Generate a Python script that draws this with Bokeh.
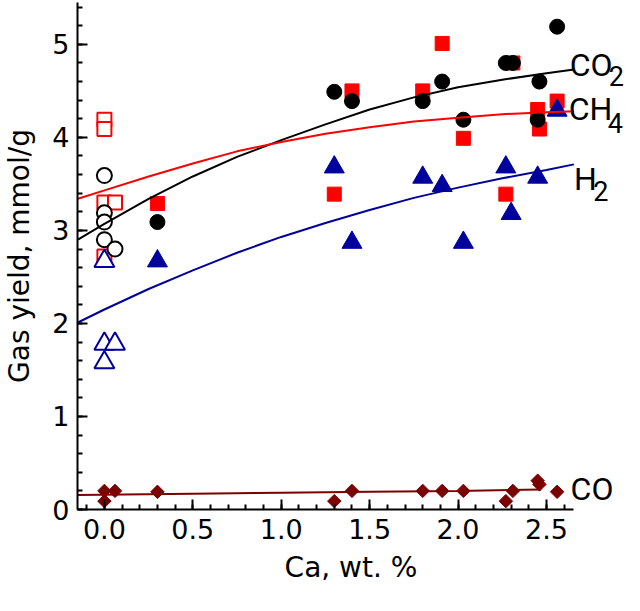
import numpy as np
from bokeh.plotting import figure
from bokeh.models import FixedTicker, Range1d, NumeralTickFormatter
from bokeh.core.properties import value
from bokeh.embed import file_html
from bokeh.resources import INLINE

# ---- data ----
# open symbols (samples without Ca)
co2_open_x = [0.0, 0.0, 0.0, 0.0, 0.06]
co2_open_y = [3.59, 3.19, 3.09, 2.90, 2.80]
ch4_open_x = [0.0, 0.0, 0.0, 0.06, 0.0]
ch4_open_y = [4.19, 4.09, 3.30, 3.30, 2.72]
h2_open_x = [0.0, 0.0, 0.06, 0.0]
h2_open_y = [2.67, 1.78, 1.78, 1.58]

# filled symbols
co2_x = [0.30, 1.30, 1.40, 1.80, 1.91, 2.03, 2.27, 2.31, 2.46, 2.45, 2.56]
co2_y = [3.09, 4.49, 4.39, 4.39, 4.60, 4.19, 4.80, 4.80, 4.60, 4.19, 5.19]
ch4_x = [0.30, 1.30, 1.40, 1.80, 1.91, 2.03, 2.27, 2.31, 2.45, 2.46, 2.56]
ch4_y = [3.29, 3.39, 4.50, 4.50, 5.01, 3.99, 3.39, 4.80, 4.30, 4.09, 4.39]
h2_x = [0.30, 1.30, 1.40, 1.80, 1.91, 2.03, 2.27, 2.30, 2.45, 2.56]
h2_y = [2.67, 3.68, 2.87, 3.57, 3.48, 2.87, 3.68, 3.18, 3.57, 4.29]
co_x = [0.0, 0.0, 0.06, 0.30, 1.30, 1.40, 1.80, 1.91, 2.03, 2.27, 2.31, 2.45, 2.46, 2.56]
co_y = [0.20, 0.09, 0.20, 0.19, 0.09, 0.20, 0.20, 0.20, 0.20, 0.09, 0.20, 0.31, 0.27, 0.19]

# fitted curves
fit_x = [-0.15, 0.0, 0.25, 0.5, 0.75, 1.0, 1.25, 1.5, 1.75, 2.0, 2.25, 2.5, 2.655]
co2_fit = [2.90, 3.07, 3.34, 3.58, 3.79, 3.97, 4.14, 4.30, 4.43, 4.54, 4.62, 4.69, 4.73]
ch4_fit = [3.34, 3.43, 3.58, 3.72, 3.85, 3.95, 4.04, 4.11, 4.17, 4.21, 4.25, 4.27, 4.28]
h2_fit = [2.01, 2.15, 2.37, 2.57, 2.76, 2.93, 3.08, 3.22, 3.35, 3.46, 3.56, 3.65, 3.71]
co_fit_x = [-0.15, 0.5, 1.0, 1.5, 2.0, 2.47]
co_fit = [0.155, 0.17, 0.18, 0.19, 0.20, 0.215]

# curve names (main part, subscript)
curve_names = ["CO", "CH", "H", "CO"]
curve_subs = ["2", "4", "2", ""]

x_ticks = [0.0, 0.5, 1.0, 1.5, 2.0, 2.5]
y_ticks = [0, 1, 2, 3, 4, 5]

BLACK = "#000000"
RED = "#ff0000"
BLUE = "#00009c"
DRED = "#7b0000"
FONT = "DejaVu Sans"
LFONT = "Roboto"

X_AXIS_END = 2.655

p = figure(width=624, height=595, output_backend="svg", toolbar_location=None,
           x_range=Range1d(-0.152, 2.941), y_range=Range1d(0, 5.45),
           min_border_left=71, min_border_right=0, min_border_top=2, min_border_bottom=86)
p.xgrid.visible = False
p.ygrid.visible = False
p.outline_line_color = None
p.background_fill_color = "white"
p.border_fill_color = "white"

for ax in (p.xaxis, p.yaxis):
    ax.axis_line_width = 2
    ax.major_tick_line_width = 2
    ax.minor_tick_line_width = 2
    ax.major_tick_in = 10
    ax.major_tick_out = 0
    ax.minor_tick_in = 5
    ax.minor_tick_out = 0
    ax.major_label_text_font = FONT
    ax.major_label_text_font_size = "27px"
    ax.major_label_text_color = "black"
    ax.axis_label_text_font = FONT
    ax.axis_label_text_font_size = "28px"
    ax.axis_label_text_font_style = "normal"
    ax.axis_label_text_color = "black"

p.xaxis.bounds = (-0.152, X_AXIS_END)
p.xaxis.ticker = FixedTicker(ticks=x_ticks, minor_ticks=list(np.round(np.arange(-0.1, 2.65, 0.1), 2)))
p.yaxis.ticker = FixedTicker(ticks=y_ticks, minor_ticks=list(np.round(np.arange(0, 5.45, 0.2), 2)))
p.xaxis.formatter = NumeralTickFormatter(format="0.0")
p.yaxis.formatter = NumeralTickFormatter(format="0")
p.xaxis.major_label_standoff = 9
p.yaxis.major_label_standoff = 8
p.xaxis.axis_label = "Ca, wt. %"
p.yaxis.axis_label = "Gas yield, mmol/g"
p.xaxis.axis_label_standoff = 9
p.yaxis.axis_label_standoff = 13

# open symbols
p.scatter(ch4_open_x, ch4_open_y, marker="square", size=14, fill_color="white", line_color=RED, line_width=2)
p.scatter(co2_open_x, co2_open_y, marker="circle", size=15, fill_color="white", line_color=BLACK, line_width=2)
p.scatter(h2_open_x, h2_open_y, marker="triangle", size=20, fill_color="white", line_color=BLUE, line_width=2)

# filled symbols
p.scatter(ch4_x, ch4_y, marker="square", size=14, fill_color=RED, line_color=RED)
p.scatter(co2_x, co2_y, marker="circle", size=15, fill_color=BLACK, line_color=BLACK)
p.scatter(h2_x, h2_y, marker="triangle", size=20, fill_color=BLUE, line_color=BLUE)
p.scatter(co_x, co_y, marker="square", angle=np.pi / 4, size=9.5, fill_color=DRED, line_color=DRED)

# fitted curves
p.line(fit_x, co2_fit, line_color=BLACK, line_width=2)
p.line(fit_x, ch4_fit, line_color=RED, line_width=2)
p.line(fit_x, h2_fit, line_color=BLUE, line_width=2)
p.line(co_fit_x, co_fit, line_color=DRED, line_width=2)

# curve labels placed to the right of the curve ends
name_x = [2.631, 2.626, 2.656, 2.636]
name_y = [4.776, 4.30, 3.55, 0.22]
sub_x = [2.852, 2.846, 2.765, 2.9]
sub_y = [4.66, 4.16, 3.42, 0.1]
p.text(x=name_x, y=name_y, text=curve_names, text_font=value(LFONT), text_font_size=value("32px"),
       text_color="black", text_baseline="alphabetic", text_align="left")
p.text(x=sub_x, y=sub_y, text=curve_subs, text_font=value(LFONT), text_font_size=value("27px"),
       text_color="black", text_baseline="alphabetic", text_align="left")

open("out.html", "w").write(file_html(p, INLINE))
